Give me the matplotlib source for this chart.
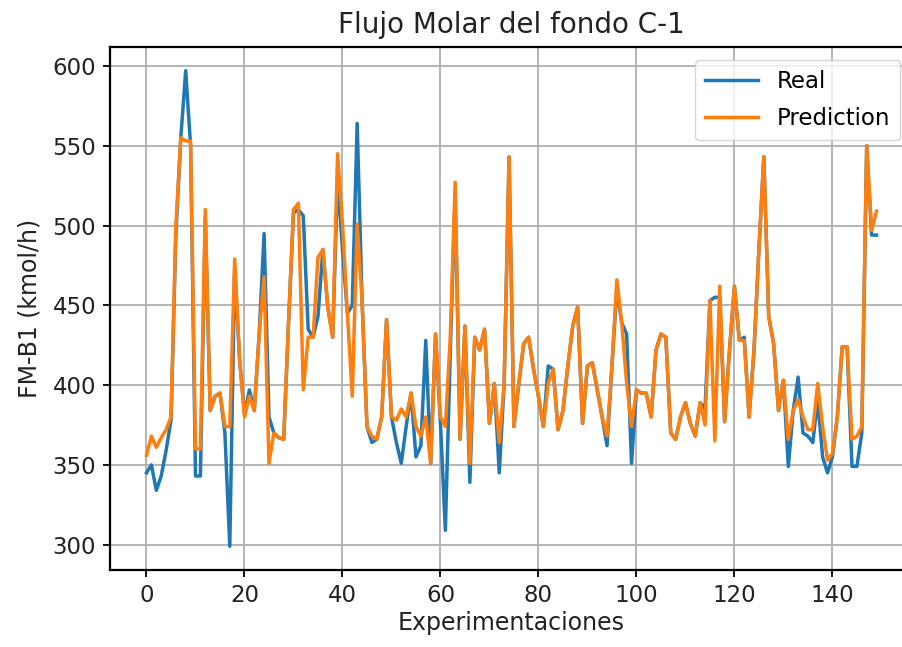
import matplotlib
matplotlib.use("Agg")
import matplotlib.pyplot as plt
import numpy as np

real = [345, 350, 334, 343, 359, 378, 495, 555, 597, 550,
        343, 343, 505, 384, 393, 395, 370, 299, 474, 416,
        382, 397, 384, 432, 495, 380, 370, 367, 366, 440,
        508, 510, 506, 435, 430, 443, 485, 449, 430, 530,
        485, 445, 450, 564, 453, 374, 364, 366, 380, 441,
        380, 364, 351, 374, 395, 355, 362, 428, 351, 432,
        376, 309, 420, 520, 366, 437, 339, 430, 422, 435,
        376, 401, 345, 401, 543, 374, 401, 426, 430, 410,
        393, 374, 412, 410, 372, 384, 412, 437, 449, 376,
        412, 414, 397, 380, 362, 412, 460, 439, 432, 351,
        397, 395, 395, 380, 422, 432, 430, 370, 366, 380,
        389, 376, 368, 389, 385, 453, 455, 455, 377, 422,
        462, 428, 430, 380, 422, 485, 543, 443, 426, 384,
        403, 349, 384, 405, 370, 368, 364, 391, 355, 345,
        355, 380, 424, 424, 349, 349, 370, 550, 494, 494]

prediction = [356, 368, 361, 367, 372, 380, 500, 555, 553, 553,
              360, 360, 510, 384, 393, 395, 374, 374, 479, 416,
              380, 393, 384, 432, 468, 351, 370, 367, 366, 440,
              510, 514, 397, 430, 430, 480, 485, 449, 430, 545,
              501, 445, 393, 501, 453, 374, 368, 366, 380, 441,
              380, 378, 385, 380, 395, 374, 368, 380, 351, 432,
              380, 374, 430, 527, 366, 437, 351, 430, 422, 435,
              376, 401, 364, 401, 543, 374, 401, 426, 430, 410,
              393, 374, 401, 410, 372, 384, 412, 437, 449, 376,
              412, 414, 397, 380, 368, 412, 466, 439, 401, 374,
              397, 395, 395, 380, 422, 432, 430, 370, 366, 380,
              389, 376, 368, 389, 375, 453, 365, 462, 377, 422,
              462, 428, 428, 380, 422, 485, 543, 443, 426, 384,
              403, 366, 384, 391, 380, 372, 372, 401, 374, 353,
              357, 380, 424, 424, 366, 368, 374, 550, 497, 509]

labels = ["Real", "Prediction"]

plt.rcParams['font.family'] = ['DejaVu Sans']
fig = plt.figure(figsize=(9.03, 6.47), dpi=100)
ax = fig.add_axes([110/903, 77/647, 803/903, 523/647])

x = np.arange(len(real))
ax.plot(x, real, color='#1f77b4', lw=2.5, label=labels[0])
ax.plot(x, prediction, color='#ff7f0e', lw=2.5, label=labels[1])

ax.set_title("Flujo Molar del fondo C-1", fontsize=20, pad=10, color='#222222')
ax.set_xlabel("Experimentaciones", fontsize=17, labelpad=3, color='#222222')
ax.set_ylabel("FM-B1 (kmol/h)", fontsize=17, labelpad=8, color='#222222')
ax.tick_params(labelsize=16.5, length=5, width=1.3, pad=5, labelcolor='#222222')
for s in ax.spines.values():
    s.set_linewidth(1.6)
ax.spines['right'].set_visible(False)
ax.grid(True, color='#b0b0b0', lw=1.3)
ax.set_xticks(np.arange(0, 160, 20))
ax.set_yticks(np.arange(300, 650, 50))
ax.legend(fontsize=16.5, loc='upper right', bbox_to_anchor=(0.984, 0.975),
          borderaxespad=0, handlelength=2.3, borderpad=0.45, labelspacing=0.6)

fig.savefig("out.png", dpi=100)
